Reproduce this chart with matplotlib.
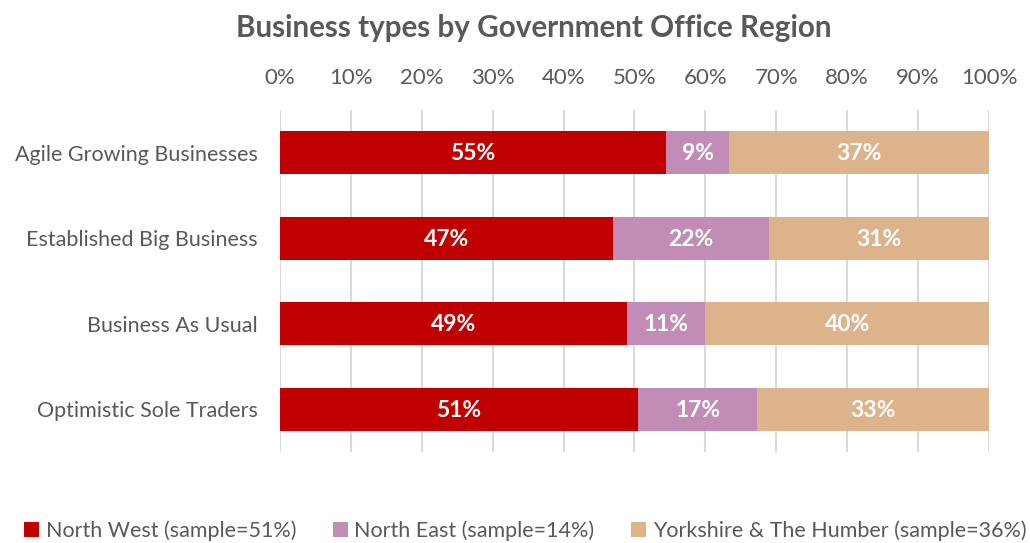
import matplotlib
matplotlib.use("Agg")
import matplotlib.pyplot as plt
from matplotlib.patches import Patch
import numpy as np

plt.rcParams['font.family'] = ['Lato', 'DejaVu Sans']

categories = ["Agile Growing Businesses", "Established Big Business",
              "Business As Usual", "Optimistic Sole Traders"]
series_names = ["North West (sample=51%)", "North East (sample=14%)",
                "Yorkshire & The Humber (sample=36%)"]
north_west = [55, 47, 49, 51]
north_east = [9, 22, 11, 17]
yorkshire = [37, 31, 40, 33]
colors = ["#C00000", "#C18DB6", "#DDB38C"]
tick_labels = ["0%", "10%", "20%", "30%", "40%", "50%", "60%", "70%", "80%", "90%", "100%"]

text_grey = "#595959"

fig = plt.figure(figsize=(10.30, 5.43), dpi=100)
ax = fig.add_axes([0.2718, 0.1675, 0.6884, 0.630])

vals = np.array([north_west, north_east, yorkshire], dtype=float)
shares = vals / vals.sum(axis=0)  # 100% stacked
y = np.arange(len(categories))
left = np.zeros(len(categories))
for i in range(3):
    ax.barh(y, shares[i], left=left, height=0.5, color=colors[i], zorder=3)
    for j in range(len(categories)):
        ax.text(left[j] + shares[i][j] / 2, y[j] + 0.01, f"{int(vals[i][j])}%",
                ha="center", va="center", color="white", fontsize=16.5,
                fontweight="bold", zorder=4)
    left += shares[i]

ax.set_xlim(0, 1)
ax.set_ylim(len(categories) - 0.5, -0.5)
ax.set_xticks(np.linspace(0, 1, 11))
ax.set_xticklabels(tick_labels)
ax.xaxis.tick_top()
ax.tick_params(axis="x", length=0, pad=16, labelsize=16, colors=text_grey)
ax.set_yticks(y)
ax.set_yticklabels(categories)
ax.tick_params(axis="y", length=0, pad=16, labelsize=15.5, colors=text_grey)
ax.grid(axis="x", color="#D9D9D9", linewidth=1.5, zorder=0)
for s in ax.spines.values():
    s.set_visible(False)

fig.text(0.5185, 0.948, "Business types by Government Office Region",
         ha="center", va="center", fontsize=21.3, fontweight="bold", color=text_grey)

handles = [Patch(facecolor=c, edgecolor="none") for c in colors]
fig.legend(handles, series_names, loc="center", bbox_to_anchor=(0.51, 0.022),
           ncol=3, frameon=False, fontsize=15.5, labelcolor=text_grey,
           handlelength=0.7, handleheight=0.7, handletextpad=0.3, columnspacing=1.7)

fig.savefig("out.png", dpi=100, facecolor="white")
